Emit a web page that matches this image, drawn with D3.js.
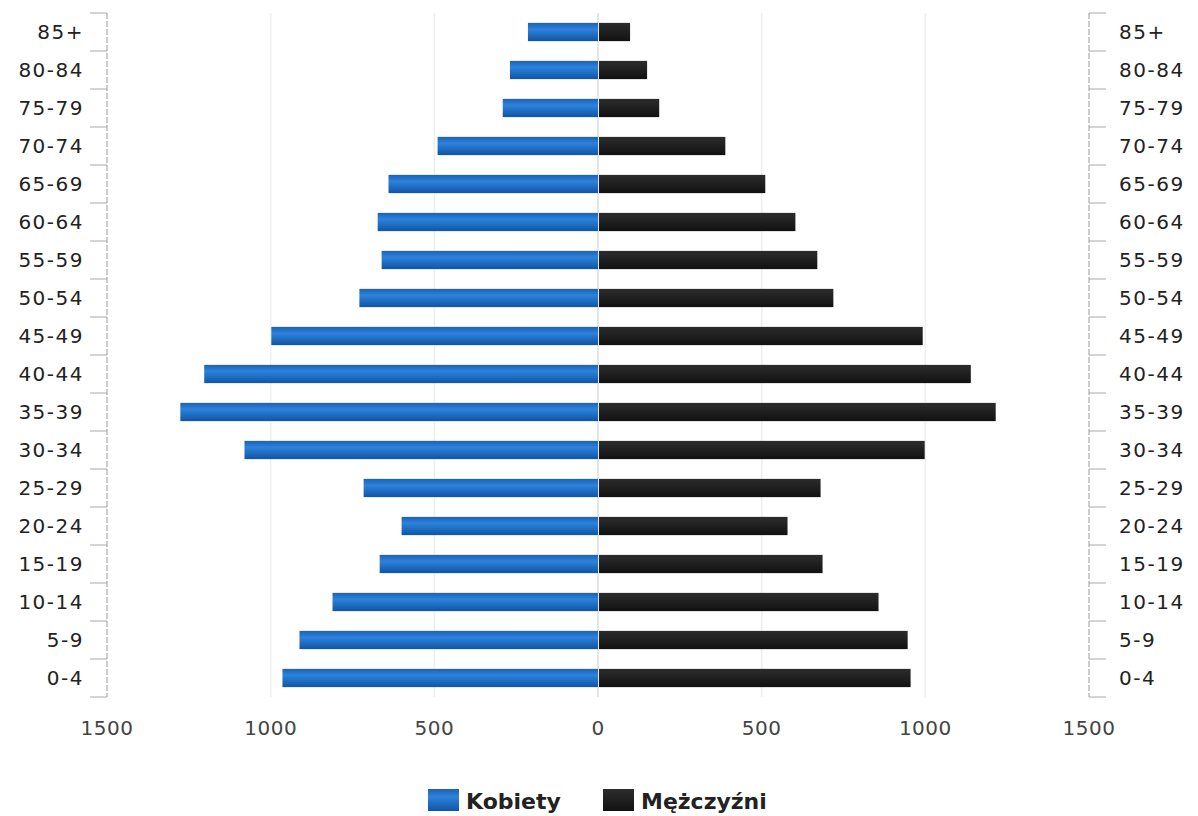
<!DOCTYPE html>
<html>
<head>
<meta charset="utf-8">
<script src="https://cdn.jsdelivr.net/npm/d3@7"></script>
<style>
  body { margin: 0; background: #fff; }
  svg text { font-family: "DejaVu Sans", sans-serif; }
</style>
</head>
<body>
<div id="chart"></div>
<script>
// age groups, top to bottom
var ageGroups = ["85+", "80-84", "75-79", "70-74", "65-69", "60-64", "55-59", "50-54", "45-49",
                 "40-44", "35-39", "30-34", "25-29", "20-24", "15-19", "10-14", "5-9", "0-4"];
var kobiety = [214, 269, 291, 490, 640, 673, 661, 729, 998, 1203, 1276, 1080, 716, 600, 667, 811, 912, 964];
var mezczyzni = [98, 150, 187, 389, 511, 603, 670, 719, 992, 1139, 1215, 998, 680, 579, 686, 857, 946, 955];
var xTicks = [-1500, -1000, -500, 0, 500, 1000, 1500];
var seriesNames = ["Kobiety", "Mężczyźni"];

var W = 1198, H = 816;
var svg = d3.select("#chart").append("svg")
  .attr("width", W).attr("height", H);

var defs = svg.append("defs");
var gBlue = defs.append("linearGradient").attr("id", "gBlue").attr("x1", 0).attr("y1", 0).attr("x2", 0).attr("y2", 1);
gBlue.append("stop").attr("offset", "0%").attr("stop-color", "#1a62b8");
gBlue.append("stop").attr("offset", "35%").attr("stop-color", "#2c82dc");
gBlue.append("stop").attr("offset", "100%").attr("stop-color", "#1055a4");
var gBlack = defs.append("linearGradient").attr("id", "gBlack").attr("x1", 0).attr("y1", 0).attr("x2", 0).attr("y2", 1);
gBlack.append("stop").attr("offset", "0%").attr("stop-color", "#2c2c2c");
gBlack.append("stop").attr("offset", "40%").attr("stop-color", "#222");
gBlack.append("stop").attr("offset", "100%").attr("stop-color", "#111");

var x = d3.scaleLinear().domain([-1500, 1500]).range([107, 1089]);
var y = d3.scaleBand().domain(ageGroups).range([13, 697]).paddingInner(0.52).paddingOuter(0.26);

// grid
svg.append("g").selectAll("line")
  .data(xTicks.filter(function(d) { return Math.abs(d) < 1500; }))
  .enter().append("line")
  .attr("x1", function(d) { return x(d); }).attr("x2", function(d) { return x(d); })
  .attr("y1", 13).attr("y2", 697)
  .attr("stroke", function(d) { return d === 0 ? "#dcdcdc" : "#efefef"; })
  .attr("stroke-width", 1.5);

// bars
svg.append("g").selectAll("rect")
  .data(kobiety)
  .enter().append("rect")
  .attr("x", function(d) { return x(-d); })
  .attr("y", function(d, i) { return y(ageGroups[i]); })
  .attr("width", function(d) { return x(0) - x(-d); })
  .attr("height", y.bandwidth())
  .attr("fill", "url(#gBlue)");

svg.append("g").selectAll("rect")
  .data(mezczyzni)
  .enter().append("rect")
  .attr("x", x(0) + 1)
  .attr("y", function(d, i) { return y(ageGroups[i]); })
  .attr("width", function(d) { return x(d) - x(0) - 1; })
  .attr("height", y.bandwidth())
  .attr("fill", "url(#gBlack)");

// y axes (ticks on band boundaries)
var bounds = d3.range(ageGroups.length + 1).map(function(i) { return 13 + i * 38; });

function drawYAxis(ax, dir, anchor, labelX) {
  var g = svg.append("g");
  g.append("line").attr("x1", ax).attr("x2", ax).attr("y1", 13).attr("y2", 697)
    .attr("stroke", "#999").attr("stroke-width", 1).attr("stroke-dasharray", "6,2");
  g.selectAll(".tk").data(bounds).enter().append("line")
    .attr("x1", ax).attr("x2", ax + dir * 17)
    .attr("y1", function(d) { return d; }).attr("y2", function(d) { return d; })
    .attr("stroke", "#aaa").attr("stroke-width", 1);
  g.selectAll("text").data(ageGroups).enter().append("text")
    .attr("x", labelX)
    .attr("y", function(d) { return y(d) + y.bandwidth() / 2; })
    .attr("dy", "0.36em")
    .attr("text-anchor", anchor)
    .attr("font-size", 20)
    .attr("letter-spacing", "1.5px")
    .attr("fill", "#222")
    .text(function(d) { return d; });
}
drawYAxis(x(-1500), -1, "end", 84);
drawYAxis(x(1500), 1, "start", 1119);

// x tick labels
svg.append("g").selectAll("text")
  .data(xTicks)
  .enter().append("text")
  .attr("x", function(d) { return x(d); })
  .attr("y", 735)
  .attr("text-anchor", "middle")
  .attr("font-size", 20)
  .attr("letter-spacing", "0.5px")
  .attr("fill", "#444")
  .text(function(d) { return Math.abs(d); });

// legend
var legend = svg.append("g");
var legItems = [{ name: seriesNames[0], fill: "url(#gBlue)", x: 428 }, { name: seriesNames[1], fill: "url(#gBlack)", x: 603 }];
legend.selectAll("rect").data(legItems).enter().append("rect")
  .attr("x", function(d) { return d.x; }).attr("y", 789)
  .attr("width", 31).attr("height", 22)
  .attr("fill", function(d) { return d.fill; });
legend.selectAll("text").data(legItems).enter().append("text")
  .attr("x", function(d) { return d.x + 38; }).attr("y", 809)
  .attr("font-size", 22).attr("font-weight", "bold").attr("fill", "#222")
  .text(function(d) { return d.name; });
</script>
</body>
</html>
